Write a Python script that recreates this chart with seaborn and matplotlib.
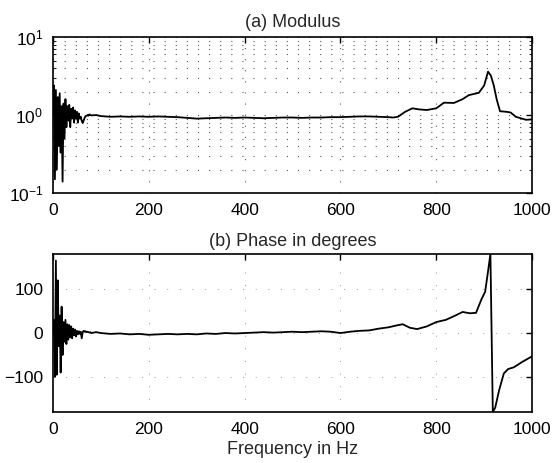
import numpy as np
import pandas as pd
import matplotlib
matplotlib.use("Agg")
import matplotlib.pyplot as plt
import matplotlib.ticker as mticker
import seaborn as sns

# ---- data ----
mod_freq = [0, 2, 4, 6, 8, 10, 12, 14, 16, 18, 20, 22, 24, 26, 28, 30, 32, 34, 36, 38,
            40, 42, 44, 46, 48, 50, 52, 54, 56, 58, 60, 62, 64, 66, 68, 70, 72, 74, 76, 78,
            80, 90, 100, 120, 140, 160, 180, 200, 220, 240, 260, 280, 300, 320, 340, 360,
            380, 400, 420, 440, 460, 480, 500, 520, 540, 560, 580, 600, 620, 640, 660, 680,
            700, 710, 720, 735, 750, 765, 780, 800, 816, 837, 855, 868, 889, 900, 908, 914,
            920, 926, 933, 947, 955, 966, 987, 1000]
mod_vals = [1.0, 2.4, 0.15, 2.1, 0.2, 1.7, 0.4, 1.9, 0.33, 1.3, 0.14, 1.4, 0.5, 1.6, 0.7, 1.3,
            0.85, 1.35, 0.7, 1.2, 0.9, 1.25, 0.8, 1.15, 0.9, 1.1, 0.8, 1.05, 0.9, 0.95,
            0.84, 0.79, 0.85, 0.92, 0.97, 0.98, 1.0, 0.98, 1.02, 1.0,
            0.99, 1.0, 0.97, 0.95, 0.96, 0.95, 0.96, 0.95, 0.96, 0.95, 0.94, 0.92, 0.90, 0.91,
            0.92, 0.93, 0.92, 0.93, 0.92, 0.91, 0.92, 0.93, 0.93, 0.92, 0.93, 0.93, 0.94,
            0.94, 0.95, 0.96, 0.96, 0.95, 0.94, 0.93, 0.95, 1.1, 1.22, 1.18, 1.16, 1.22,
            1.44, 1.43, 1.6, 1.8, 1.93, 2.4, 3.6, 3.2, 2.4, 1.6, 1.12, 1.1, 1.08, 0.95, 0.87, 0.88]

ph_freq = [0, 2, 4, 6, 8, 10, 12, 14, 16, 18, 20, 22, 24, 26, 28, 30, 32, 34, 36, 38,
           40, 42, 44, 46, 48, 50, 52, 54, 56, 58, 60, 62, 64, 66, 68, 70, 72, 74, 76, 78,
           80, 90, 100, 120, 140, 160, 180, 200, 220, 240, 260, 280, 300, 320, 340, 360,
           380, 400, 420, 440, 460, 480, 500, 520, 540, 560, 580, 600, 620, 640, 660, 680,
           700, 720, 730, 745, 760, 780, 800, 820, 840, 855, 870, 883, 894, 902, 908, 913,
           918, 923, 931, 941, 950, 962, 979, 1000]
ph_vals = [0, 30, -100, 165, -95, 120, -30, 40, -90, 60, -50, 25, -20, 30, -25, 20, -15, 18,
           -10, 15, -12, 10, -5, 8, -8, 5, -3, 4, -2, 3, -12, 2, 5, 3, 4, 2, 3, 2, 1, 2,
           0, 2, 0, -2, -1, -3, -2, -4, -3, -2, -3, -2, -3, -1, -2, 0, -1, 0, 1, 2, 1, 2,
           3, 2, 3, 4, 3, 0, 3, 5, 6, 10, 13, 18, 20, 12, 9, 15, 25, 30, 40, 48, 45, 46,
           76, 94, 140, 180, -180, -170, -131, -92, -82, -78, -66, -53]

x_ticks = [0, 200, 400, 600, 800, 1000]
ph_ticks = [-100, 0, 100]

df_mod = pd.DataFrame({"freq": mod_freq, "val": mod_vals})
df_ph = pd.DataFrame({"freq": ph_freq, "val": ph_vals})

sns.set_style("white")
plt.rcParams["font.family"] = ["Liberation Sans", "DejaVu Sans"]
plt.rcParams["mathtext.fontset"] = "custom"
plt.rcParams["mathtext.rm"] = "Liberation Sans"
plt.rcParams["mathtext.it"] = "Liberation Sans"

fig = plt.figure(figsize=(5.56, 4.63), dpi=100)
ax1 = fig.add_axes([0.0953, 0.583, 0.957 - 0.0953, 0.920 - 0.583])
ax2 = fig.add_axes([0.0953, 0.110, 0.957 - 0.0953, 0.4514 - 0.110])

fs = 12.5
tfs = 13

sns.lineplot(data=df_mod, x="freq", y="val", ax=ax1, color="black", lw=1.3,
             sort=False, estimator=None)
ax1.set_yscale("log")
ax1.set_ylim(0.1, 10)
ax1.set_xlim(0, 1000)
ax1.set_xticks(x_ticks)
ax1.yaxis.set_major_locator(mticker.FixedLocator([0.1, 1, 10]))
ax1.yaxis.set_major_formatter(mticker.FixedFormatter([r"$10^{-1}$", r"$10^{0}$", r"$10^{1}$"]))
ax1.yaxis.set_minor_locator(mticker.LogLocator(base=10, subs=np.arange(2, 10)))
ax1.yaxis.set_minor_formatter(mticker.NullFormatter())
ax1.grid(True, which="both", axis="y", color="0.35", lw=0.8, ls=(0, (1, 9)))
ax1.grid(True, which="major", axis="x", color="0.35", lw=0.8, ls=(0, (1, 9)))
ax1.set_title("(a) Modulus", fontsize=tfs, pad=7)

sns.lineplot(data=df_ph, x="freq", y="val", ax=ax2, color="black", lw=1.3,
             sort=False, estimator=None)
ax2.set_xlim(0, 1000)
ax2.set_ylim(-180, 180)
ax2.set_xticks(x_ticks)
ax2.set_yticks(ph_ticks)
ax2.grid(True, which="major", color="0.6", lw=0.7, ls=(0, (1, 12)))
ax2.set_title("(b) Phase in degrees", fontsize=tfs, pad=6)
ax2.set_xlabel("Frequency in Hz", fontsize=tfs, labelpad=3)

for ax in (ax1, ax2):
    ax.set_ylabel("")
    if ax is ax1:
        ax.set_xlabel("")
    for s in ax.spines.values():
        s.set_color("black")
        s.set_linewidth(1.2)
    ax.tick_params(which="major", direction="in", length=4, width=1, top=True, right=True,
                   labelsize=fs, pad=7, colors="black")
    ax.tick_params(which="minor", direction="in", length=2, width=0.8, top=False, right=True,
                   left=True)
    ax.set_axisbelow(True)

fig.savefig("out.png", dpi=100)
